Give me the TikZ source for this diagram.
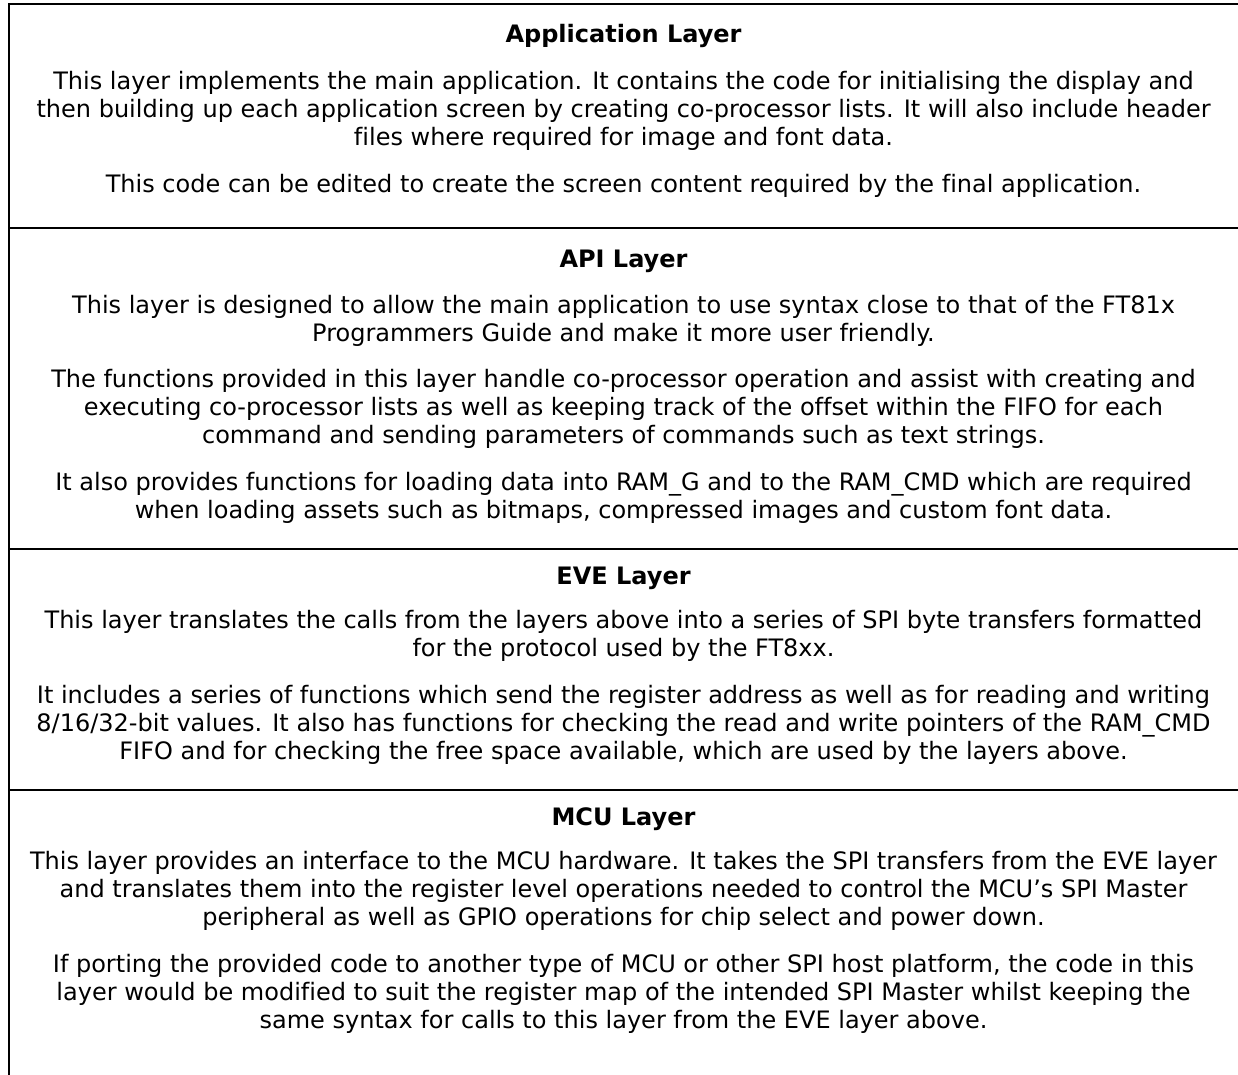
\documentclass[tikz,border=0pt]{standalone}
\usepackage{fontspec}
\setmainfont{DejaVu Sans}[Ligatures=NoCommon]
\newcommand\bodyfont{\fontsize{18}{21}\selectfont}
\begin{document}
\begin{tikzpicture}[x=0.75pt, y=-0.75pt,
  txt/.style={anchor=base, inner sep=0pt, font=\bodyfont},
  head/.style={txt, font=\bodyfont\bfseries},
  rulebar/.style={line width=1.5pt, line cap=rect}]
\useasboundingbox (0,0) rectangle (1238,1074);

% table frame and row separators
\draw[rulebar] (9,1074) -- (9,4) -- (1238,4);
\draw[rulebar] (9,228) -- (1238,228);
\draw[rulebar] (9,549) -- (1238,549);
\draw[rulebar] (9,790) -- (1238,790);

% Application layer
\node[head] (app-t) at (623.5,43) {Application Layer};
\node[txt] (app-1) at (623.5,89.5) {This layer implements the main application. It contains the code for initialising the display and};
\node[txt] (app-2) at (623.5,117.5) {then building up each application screen by creating co-processor lists. It will also include header};
\node[txt] (app-3) at (623.5,145.5) {files where required for image and font data.};
\node[txt] (app-4) at (623.5,192) {This code can be edited to create the screen content required by the final application.};

% API layer
\node[head] (api-t) at (623.5,267) {API Layer};
\node[txt] (api-1) at (623.5,313) {This layer is designed to allow the main application to use syntax close to that of the FT81x};
\node[txt] (api-2) at (623.5,341) {Programmers Guide and make it more user friendly.};
\node[txt] (api-3) at (623.5,387.5) {The functions provided in this layer handle co-processor operation and assist with creating and};
\node[txt] (api-4) at (623.5,415.5) {executing co-processor lists as well as keeping track of the offset within the FIFO for each};
\node[txt] (api-5) at (623.5,443.5) {command and sending parameters of commands such as text strings.};
\node[txt] (api-6) at (623.5,490) {It also provides functions for loading data into RAM\_G and to the RAM\_CMD which are required};
\node[txt] (api-7) at (623.5,518) {when loading assets such as bitmaps, compressed images and custom font data.};

% EVE layer
\node[head] (eve-t) at (623.5,584) {EVE Layer};
\node[txt] (eve-1) at (623.5,628.5) {This layer translates the calls from the layers above into a series of SPI byte transfers formatted};
\node[txt] (eve-2) at (623.5,656.5) {for the protocol used by the FT8xx.};
\node[txt] (eve-3) at (623.5,703) {It includes a series of functions which send the register address as well as for reading and writing};
\node[txt] (eve-4) at (623.5,731) {8/16/32-bit values. It also has functions for checking the read and write pointers of the RAM\_CMD};
\node[txt] (eve-5) at (623.5,759) {FIFO and for checking the free space available, which are used by the layers above.};

% MCU layer
\node[head] (mcu-t) at (623.5,825) {MCU Layer};
\node[txt] (mcu-1) at (623.5,869.5) {This layer provides an interface to the MCU hardware. It takes the SPI transfers from the EVE layer};
\node[txt] (mcu-2) at (623.5,897.5) {and translates them into the register level operations needed to control the MCU’s SPI Master};
\node[txt] (mcu-3) at (623.5,925.5) {peripheral as well as GPIO operations for chip select and power down.};
\node[txt] (mcu-4) at (623.5,972.5) {If porting the provided code to another type of MCU or other SPI host platform, the code in this};
\node[txt] (mcu-5) at (623.5,1000.5) {layer would be modified to suit the register map of the intended SPI Master whilst keeping the};
\node[txt] (mcu-6) at (623.5,1028.5) {same syntax for calls to this layer from the EVE layer above.};
\end{tikzpicture}
\end{document}
